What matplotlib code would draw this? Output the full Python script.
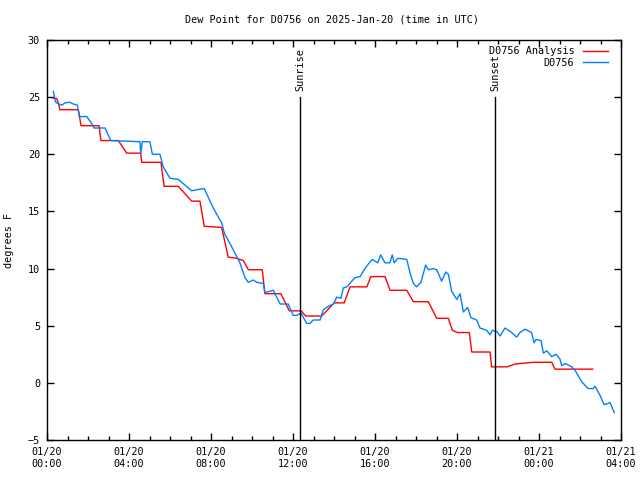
import numpy as np
import matplotlib.pyplot as plt
from matplotlib.ticker import MultipleLocator

plt.rcParams['font.family'] = ['DejaVu Sans Mono']
plt.rcParams['font.size'] = 7.3

title = "Dew Point for D0756 on 2025-Jan-20 (time in UTC)"
xtick_hours = [0, 4, 8, 12, 16, 20, 24, 28]
xtick_labels = ["01/20\n00:00", "01/20\n04:00", "01/20\n08:00", "01/20\n12:00",
                "01/20\n16:00", "01/20\n20:00", "01/21\n00:00", "01/21\n04:00"]
sunrise_hour = 12.34
sunset_hour = 21.85

# observations (hours since 01/20 00:00 UTC, deg F)
obs_hours = [0.31, 0.41, 0.47, 0.72, 0.88, 1.12, 1.28, 1.48, 1.58, 1.94, 2.18, 2.29, 2.83,
             3.11, 4.54, 4.57, 4.65, 5.02, 5.14, 5.51, 5.67, 6.0, 6.41, 7.06, 7.3, 7.67,
             8.11, 8.36, 8.52, 8.65, 9.01, 9.41, 9.66, 9.82, 10.06, 10.23, 10.55, 10.63,
             11.04, 11.37, 11.77, 12.01, 12.18, 12.39, 12.67, 12.83, 12.99, 13.32, 13.48,
             13.72, 13.97, 14.13, 14.34, 14.45, 14.62, 15.02, 15.27, 15.51, 15.76, 15.87,
             16.13, 16.28, 16.49, 16.73, 16.84, 16.94, 17.11, 17.55, 17.71, 17.87, 18.03,
             18.24, 18.47, 18.6, 18.84, 19.01, 19.25, 19.45, 19.58, 19.74, 19.99, 20.15,
             20.31, 20.52, 20.68, 20.96, 21.12, 21.45, 21.61, 21.72, 21.94, 22.1, 22.34,
             22.67, 22.91, 23.07, 23.32, 23.64, 23.76, 23.85, 24.1, 24.21, 24.38, 24.62,
             24.83, 25.02, 25.11, 25.27, 25.6, 25.76, 26.08, 26.4, 26.65, 26.73, 26.98,
             27.17, 27.38, 27.46, 27.67]
obs_dewpt = [25.5, 24.6, 24.5, 24.3, 24.5, 24.55, 24.4, 24.3, 23.3, 23.3, 22.7, 22.3, 22.3,
             21.2, 21.1, 20.0, 21.1, 21.1, 20.0, 20.0, 18.9, 17.9, 17.8, 16.8, 16.9, 17.0,
             15.3, 14.5, 14.0, 13.1, 11.9, 10.5, 9.2, 8.8, 9.0, 8.8, 8.7, 7.9,
             8.1, 6.9, 6.9, 5.9, 5.9, 6.1, 5.2, 5.2, 5.5, 5.5, 6.4,
             6.7, 6.9, 7.5, 7.4, 8.3, 8.4, 9.2, 9.3, 10.0, 10.6, 10.8,
             10.5, 11.2, 10.5, 10.5, 11.2, 10.5, 10.9, 10.8, 9.6, 8.7, 8.4,
             8.8, 10.3, 9.9, 10.0, 9.9, 8.9, 9.7, 9.5, 8.0, 7.3, 7.8,
             6.2, 6.6, 5.7, 5.5, 4.8, 4.6, 4.2, 4.6, 4.5, 4.1, 4.8,
             4.4, 4.0, 4.4, 4.7, 4.4, 3.5, 3.8, 3.7, 2.6, 2.8, 2.3,
             2.5, 2.1, 1.5, 1.7, 1.4, 1.1, 0.1, -0.5, -0.5, -0.3, -1.1,
             -1.9, -1.8, -1.7, -2.6]

# analysis
ana_hours = [0.31, 0.47, 0.55, 0.63, 1.53, 1.66, 2.54, 2.63, 3.48, 3.89, 4.57, 4.62, 5.56,
             5.71, 6.4, 7.06, 7.46, 7.67, 8.52, 8.84, 9.25, 9.58, 9.82, 10.5, 10.63, 11.41,
             11.82, 12.39, 12.62, 13.4, 14.01, 14.5, 14.78, 15.6, 15.8, 16.49, 16.73, 17.55,
             17.87, 18.6, 19.01, 19.58, 19.77, 20.03, 20.6, 20.72, 21.61, 21.69, 22.45,
             22.83, 23.72, 24.62, 24.78, 26.62]
ana_dewpt = [24.9, 24.9, 24.5, 23.9, 23.9, 22.5, 22.5, 21.2, 21.2, 20.1, 20.1, 19.3, 19.3,
             17.2, 17.2, 15.9, 15.9, 13.7, 13.6, 11.0, 10.9, 10.7, 9.9, 9.9, 7.8, 7.8,
             6.3, 6.3, 5.85, 5.85, 7.0, 7.0, 8.4, 8.4, 9.3, 9.3, 8.1, 8.1,
             7.1, 7.1, 5.65, 5.65, 4.6, 4.4, 4.4, 2.7, 2.7, 1.4, 1.4,
             1.65, 1.8, 1.8, 1.2, 1.2]

fig = plt.figure(figsize=(6.4, 4.8), dpi=100)
ax = fig.add_axes([47 / 640, 40 / 480, 574 / 640, 400 / 480])

ax.plot(ana_hours, ana_dewpt, color='#ff0000', lw=1, label='D0756 Analysis')
ax.plot(obs_hours, obs_dewpt, color='#0080ff', lw=1, label='D0756')

for h, name in [(sunrise_hour, 'Sunrise'), (sunset_hour, 'Sunset')]:
    ax.plot([h, h], [-5, 25], color='black', lw=1)
    ax.text(h, 25.5, name, rotation=90, ha='center', va='bottom')

ax.set_xlim(0, 28)
ax.set_ylim(-5, 30)
ax.set_xticks(xtick_hours)
ax.set_xticklabels(xtick_labels)
ax.xaxis.set_minor_locator(MultipleLocator(1))
ax.set_yticks(np.arange(-5, 31, 5))
ax.tick_params(which='both', direction='in', top=True, right=True, width=1)
ax.tick_params(which='major', length=5, pad=5)
ax.tick_params(which='minor', length=3)
for s in ax.spines.values():
    s.set_linewidth(1)

ax.set_ylabel('degrees F')
ax.yaxis.set_label_coords(-33 / 574, 0.5)
fig.text(332 / 640, 1 - 20 / 480, title, ha='center', va='center')
ax.legend(loc='upper right', bbox_to_anchor=(1 - 7 / 574, 1), frameon=False,
          markerfirst=False, handlelength=2.5, borderaxespad=0.2,
          labelspacing=0.15, handletextpad=0.8)

fig.savefig('out.png', dpi=100)
